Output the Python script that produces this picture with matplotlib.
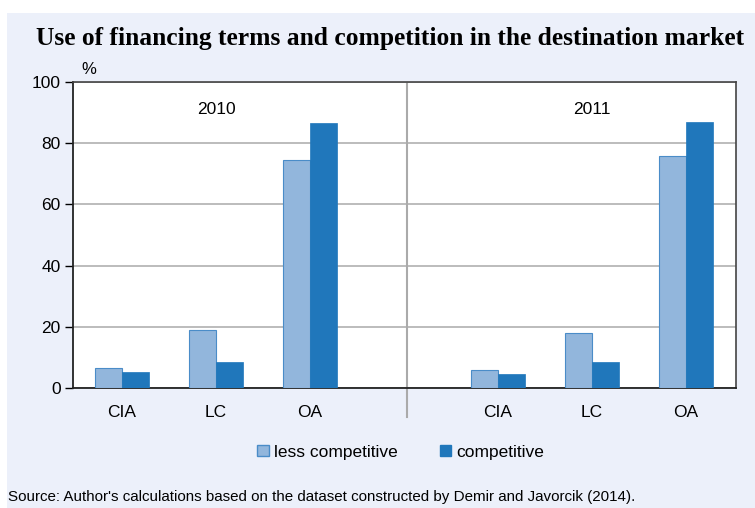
import matplotlib.pyplot as plt
import numpy as np
from matplotlib.patches import Rectangle

plt.rcParams["font.family"] = ["Liberation Sans", "DejaVu Sans"]

categories = ["CIA", "LC", "OA"]
years = ["2010", "2011"]
less_2010 = [6.4, 18.9, 74.6]
comp_2010 = [5.1, 8.6, 86.6]
less_2011 = [6.0, 18.0, 75.9]
comp_2011 = [4.6, 8.6, 87.0]

light = "#92b6dc"
dark = "#2077bb"
bg = "#ecf0fa"

fig = plt.figure(figsize=(7.55, 5.08), dpi=100)
fig.patch.set_facecolor("white")
fig.patches.append(Rectangle((7 / 755, 0), 1, 1 - 13 / 508, transform=fig.transFigure,
                             facecolor=bg, edgecolor="none", zorder=-10))

ax = fig.add_axes([73 / 755, 1 - 388 / 508, (736 - 73) / 755, (388 - 82) / 508])
ax.set_facecolor("white")

x1 = np.arange(3)
x2 = np.arange(3) + 4
w = 0.29
ax.bar(x1 - w / 2, less_2010, w, color=light, edgecolor="#4a8cc8", linewidth=0.8, zorder=3)
ax.bar(x1 + w / 2, comp_2010, w, color=dark, edgecolor=dark, linewidth=0.5, zorder=3)
ax.bar(x2 - w / 2, less_2011, w, color=light, edgecolor="#4a8cc8", linewidth=0.8, zorder=3)
ax.bar(x2 + w / 2, comp_2011, w, color=dark, edgecolor=dark, linewidth=0.5, zorder=3)

ax.set_xlim(-0.52, 6.53)
ax.set_ylim(0, 100)
ax.set_yticks([0, 20, 40, 60, 80, 100])
ax.yaxis.grid(True, color="#b0b0b0", linewidth=1.2, zorder=0)
ax.set_xticks(list(x1) + list(x2))
ax.set_xticklabels(categories + categories)
ax.tick_params(axis="x", length=0, pad=12, labelsize=12.5)
ax.tick_params(axis="y", direction="out", length=6, width=1, labelsize=12.5, pad=3)
for s in ["left", "bottom"]:
    ax.spines[s].set_color("#222222")
    ax.spines[s].set_linewidth(1.3)
for s in ["top", "right"]:
    ax.spines[s].set_color("#444444")
    ax.spines[s].set_linewidth(1.2)

# divider between years
ax.plot([3.03, 3.03], [0, 100], color="#aaaaaa", lw=1.5, zorder=2)
ax.plot([3.03, 3.03], [0, -9.5], color="#aaaaaa", lw=1.5, clip_on=False)

ax.text(1, 91, years[0], ha="center", va="center", fontsize=12.5)
ax.text(5, 91, years[1], ha="center", va="center", fontsize=12.5)
ax.text(-0.35, 101.5, "%", ha="center", va="bottom", fontsize=12)

fig.text(390 / 755, 1 - 38 / 508, "Use of financing terms and competition in the destination market",
         ha="center", va="center", fontsize=18.4, fontweight="bold", family="Liberation Serif")

leg = [Rectangle((0, 0), 1, 1, facecolor=light, edgecolor="#4a8cc8"),
       Rectangle((0, 0), 1, 1, facecolor=dark, edgecolor=dark)]
fig.legend(leg, ["less competitive", "competitive"], loc="center", ncol=2,
           bbox_to_anchor=(401 / 755, 1 - 452 / 508), frameon=False, fontsize=12.5,
           handlelength=0.65, handleheight=0.65, handletextpad=0.3, columnspacing=2.45)

fig.text(8 / 755, 1 - 497 / 508,
         "Source: Author's calculations based on the dataset constructed by Demir and Javorcik (2014).",
         ha="left", va="center", fontsize=10.9)

fig.savefig("out.png", dpi=100)
